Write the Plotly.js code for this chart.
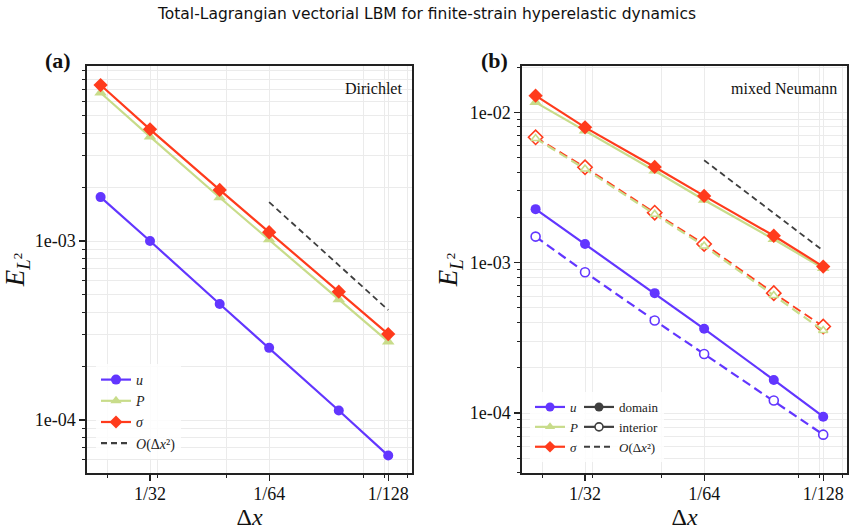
<!DOCTYPE html>
<html>
<head>
<meta charset="utf-8">
<script src="https://cdn.plot.ly/plotly-3.0.1.min.js"></script>
<style>html,body{margin:0;padding:0;background:#fff;}#chart{width:854px;height:530px;}</style>
</head>
<body>
<div id="chart"></div>
<script>
// Grid spacings (Δx) shared by both convergence studies
const dx = [1/24, 1/32, 1/48, 1/64, 1/96, 1/128];
const dxTicks = [1/32, 1/64, 1/128];
const dxTickText = ['1/32', '1/64', '1/128'];
const dxRef = [1/64, 1/128];

// (a) Dirichlet boundaries: relative L2 errors
const aU = [1.76e-3, 1.00e-3, 4.45e-4, 2.53e-4, 1.13e-4, 6.33e-5];
const aP = [6.74e-3, 3.83e-3, 1.75e-3, 1.02e-3, 4.72e-4, 2.74e-4];
const aSigma = [7.44e-3, 4.21e-3, 1.93e-3, 1.12e-3, 5.21e-4, 3.02e-4];
const aRef = [1.65e-3, 4.12e-4];

// (b) mixed Neumann boundaries: whole domain vs interior errors
const bUDomain = [2.27e-3, 1.33e-3, 6.27e-4, 3.63e-4, 1.66e-4, 9.45e-5];
const bUInterior = [1.49e-3, 8.64e-4, 4.12e-4, 2.47e-4, 1.21e-4, 7.18e-5];
const bPDomain = [1.165e-2, 7.55e-3, 4.09e-3, 2.61e-3, 1.43e-3, 9.18e-4];
const bPInterior = [6.70e-3, 4.20e-3, 2.10e-3, 1.29e-3, 6.05e-4, 3.54e-4];
const bSigmaDomain = [1.29e-2, 7.94e-3, 4.33e-3, 2.78e-3, 1.51e-3, 9.42e-4];
const bSigmaInterior = [6.82e-3, 4.31e-3, 2.15e-3, 1.33e-3, 6.27e-4, 3.76e-4];
const bRef = [4.8e-3, 1.2e-3];

const C_U = '#6236ff', C_P = '#c8dc8a', C_S = '#ff3b1c', C_REF = '#3f3f3f';
const SERIF = 'Liberation Serif, Times New Roman, serif';

function line(x, y, color, symbol, opts) {
  opts = opts || {};
  const open = opts.open;
  return {
    type: 'scatter', mode: 'lines+markers', x: x, y: y,
    showlegend: false,
    line: {color: color, width: opts.width || 2.2, dash: opts.dash || 'solid'},
    marker: {symbol: symbol, size: opts.size || 10,
             color: open ? '#ffffff' : color,
             line: {color: color, width: open ? 1.6 : 0}}
  };
}
function refLine(x, y, xa, ya) {
  return {type: 'scatter', mode: 'lines', x: x, y: y, xaxis: xa, yaxis: ya,
          showlegend: false, line: {color: C_REF, width: 1.8, dash: '6px,4px'}};
}
function legendItem(name, legend, color, symbol, opts) {
  opts = opts || {};
  return {type: 'scatter', mode: opts.mode || 'lines+markers', x: [null], y: [null],
          name: name, legend: legend, showlegend: true, xaxis: opts.xa || 'x', yaxis: opts.ya || 'y',
          line: {color: color, width: 2.2, dash: opts.dash || 'solid'},
          marker: {symbol: symbol, size: opts.size || 10,
                   color: opts.open ? '#ffffff' : color,
                   line: {color: color, width: opts.open ? 1.6 : 0}}};
}
function on(trace, xa, ya) { trace.xaxis = xa; trace.yaxis = ya; return trace; }

const traces = [];
// panel (a)
traces.push(on(line(dx, aU, C_U, 'circle'), 'x', 'y'));
traces.push(on(line(dx, aP, C_P, 'triangle-up', {size: 11}), 'x', 'y'));
traces.push(on(line(dx, aSigma, C_S, 'diamond', {size: 11}), 'x', 'y'));
traces.push(refLine(dxRef, aRef, 'x', 'y'));
// panel (b)
traces.push(on(line(dx, bUInterior, C_U, 'circle', {open: true, dash: '9px,5px', size: 9}), 'x2', 'y2'));
traces.push(on(line(dx, bSigmaInterior, C_S, 'diamond', {open: true, dash: '9px,5px', size: 11, width: 1.8}), 'x2', 'y2'));
traces.push(on(line(dx, bPInterior, C_P, 'triangle-up', {open: true, dash: '9px,5px', size: 8}), 'x2', 'y2'));
traces.push(on(line(dx, bUDomain, C_U, 'circle'), 'x2', 'y2'));
traces.push(on(line(dx, bPDomain, C_P, 'triangle-up', {size: 11}), 'x2', 'y2'));
traces.push(on(line(dx, bSigmaDomain, C_S, 'diamond', {size: 11}), 'x2', 'y2'));
traces.push(refLine(dxRef, bRef, 'x2', 'y2'));

// legend entries
traces.push(legendItem('<i>u</i>', 'legend', C_U, 'circle'));
traces.push(legendItem('<i>P</i>', 'legend', C_P, 'triangle-up'));
traces.push(legendItem('<i>σ</i>', 'legend', C_S, 'diamond'));
traces.push(legendItem('<i>O</i>(Δ<i>x</i>²)', 'legend', C_REF, 'circle', {mode: 'lines', dash: '6px,4px'}));
traces.push(legendItem('<i>u</i>', 'legend2', C_U, 'circle', {xa: 'x2', ya: 'y2', size: 9}));
traces.push(legendItem('<i>P</i>', 'legend2', C_P, 'triangle-up', {xa: 'x2', ya: 'y2', size: 9}));
traces.push(legendItem('<i>σ</i>', 'legend2', C_S, 'diamond', {xa: 'x2', ya: 'y2', size: 9}));
traces.push(legendItem('domain', 'legend3', C_REF, 'circle', {xa: 'x2', ya: 'y2', size: 9}));
traces.push(legendItem('interior', 'legend3', C_REF, 'circle', {xa: 'x2', ya: 'y2', size: 8, open: true}));
traces.push(legendItem('<i>O</i>(Δ<i>x</i>²)', 'legend3', C_REF, 'circle', {xa: 'x2', ya: 'y2', mode: 'lines', dash: '6px,4px'}));

function decadeMinors(lo, hi) {
  const v = [];
  for (let e = -6; e <= 0; e++) {
    for (let m = 2; m <= 9; m++) {
      const val = m * Math.pow(10, e);
      if (val > lo && val < hi) v.push(val);
    }
  }
  return v;
}

const GRID = '#ebebeb';
function xAxis(domain, anchor) {
  return {
    type: 'log', domain: domain, anchor: anchor,
    range: [Math.log10(0.0451), Math.log10(1/147)],
    tickmode: 'array', tickvals: dxTicks, ticktext: dxTickText,
    ticks: 'outside', ticklen: 6, tickwidth: 1.2, tickcolor: '#222',
    ticklabelstandoff: -2,
    showline: true, linecolor: '#222', linewidth: 1.6, mirror: true,
    showgrid: true, gridcolor: GRID, gridwidth: 1,
    minor: {tickmode: 'array', tickvals: [0.04, 0.03, 0.02, 0.009, 0.008, 0.007],
            ticks: 'outside', ticklen: 3.5, tickwidth: 1, tickcolor: '#222',
            showgrid: true, gridcolor: GRID, gridwidth: 1},
    tickfont: {family: SERIF, size: 18, color: '#111'},
    zeroline: false,
    title: {text: 'Δ<i>x</i>', font: {family: SERIF, size: 24, color: '#111'}, standoff: 6}
  };
}
function yAxis(domain, anchor, range, majors) {
  return {
    type: 'log', domain: domain, anchor: anchor, range: range,
    tickmode: 'array', tickvals: majors.map(m => m[0]), ticktext: majors.map(m => m[1]),
    ticks: 'outside', ticklen: 6, tickwidth: 1.2, tickcolor: '#222',
    showline: true, linecolor: '#222', linewidth: 1.6, mirror: true,
    showgrid: true, gridcolor: GRID, gridwidth: 1,
    minor: {tickmode: 'array', tickvals: decadeMinors(Math.pow(10, range[0]), Math.pow(10, range[1])),
            ticks: 'outside', ticklen: 3.5, tickwidth: 1, tickcolor: '#222',
            showgrid: true, gridcolor: GRID, gridwidth: 1},
    tickfont: {family: SERIF, size: 18, color: '#111'},
    zeroline: false,
    title: {text: '<i>E</i><sub><i>L</i><sup>2</sup></sub>', font: {family: SERIF, size: 27, color: '#111'}, standoff: 4}
  };
}

const yDom = [1 - 473/530, 1 - 66/530];
const legendBase = {bgcolor: 'rgba(255,255,255,0.85)', borderwidth: 0, xanchor: 'left', yanchor: 'top',
                    tracegroupgap: 0, itemwidth: 30};

const layout = {
  width: 854, height: 530,
  margin: {l: 0, r: 0, t: 0, b: 0},
  paper_bgcolor: '#ffffff', plot_bgcolor: '#ffffff',
  title: {text: 'Total-Lagrangian vectorial LBM for finite-strain hyperelastic dynamics',
          font: {family: 'DejaVu Sans', size: 15.5, color: '#111'}, x: 0.5, xanchor: 'center', y: 0.974, yanchor: 'middle'},
  xaxis: xAxis([87/854, 412/854], 'y'),
  yaxis: yAxis(yDom, 'x', [-4.296, -2.022], [[1e-4, '1e-04'], [1e-3, '1e-03']]),
  xaxis2: xAxis([522/854, 847/854], 'y2'),
  yaxis2: yAxis(yDom, 'x2', [-4.399, -1.692], [[1e-4, '1e-04'], [1e-3, '1e-03'], [1e-2, '1e-02']]),
  legend: Object.assign({}, legendBase, {x: 96/854, y: 1 - 364/530,
    font: {family: SERIF, size: 14, color: '#222'}}),
  legend2: Object.assign({}, legendBase, {x: 530/854, y: 1 - 392/530,
    font: {family: SERIF, size: 13, color: '#222'}}),
  legend3: Object.assign({}, legendBase, {x: 579/854, y: 1 - 392/530,
    font: {family: SERIF, size: 13, color: '#222'}}),
  annotations: [
    {text: '<b>(a)</b>', xref: 'paper', yref: 'paper', x: 58/854, y: 1 - 61/530, showarrow: false,
     font: {family: SERIF, size: 22, color: '#111'}, xanchor: 'center', yanchor: 'middle'},
    {text: '<b>(b)</b>', xref: 'paper', yref: 'paper', x: 494/854, y: 1 - 61/530, showarrow: false,
     font: {family: SERIF, size: 22, color: '#111'}, xanchor: 'center', yanchor: 'middle'},
    {text: 'Dirichlet', xref: 'x domain', yref: 'y domain', x: 0.975, y: 0.945, showarrow: false,
     font: {family: SERIF, size: 16, color: '#111'}, xanchor: 'right', yanchor: 'middle'},
    {text: 'mixed Neumann', xref: 'x2 domain', yref: 'y2 domain', x: 0.975, y: 0.945, showarrow: false,
     font: {family: SERIF, size: 16, color: '#111'}, xanchor: 'right', yanchor: 'middle'}
  ]
};

Plotly.newPlot('chart', traces, layout, {displayModeBar: false, staticPlot: true});
</script>
</body>
</html>
